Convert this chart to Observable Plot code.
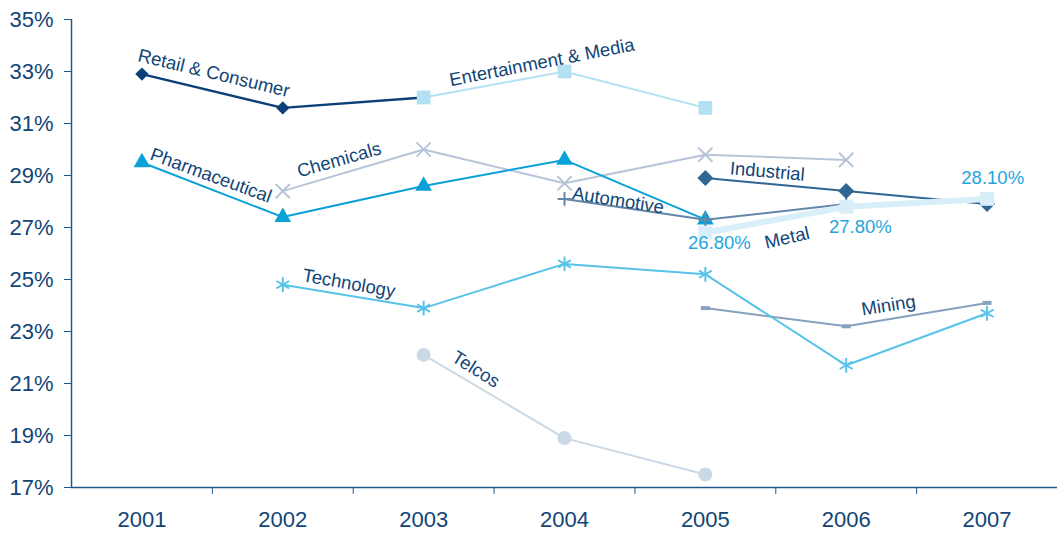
<!DOCTYPE html>
<html>
<head>
<meta charset="utf-8">
<script src="https://cdn.jsdelivr.net/npm/d3@7"></script>
<script src="https://cdn.jsdelivr.net/npm/@observablehq/plot@0.6"></script>
<style>
  html, body { margin: 0; padding: 0; background: #fff; }
  #chart svg { display: block; font-family: "Liberation Sans", Arial, sans-serif; }
</style>
</head>
<body>
<div id="chart"></div>
<script>
// ---- data ----
const years = [2001, 2002, 2003, 2004, 2005, 2006, 2007];
const yTicks = [17, 19, 21, 23, 25, 27, 29, 31, 33, 35];

const retailConsumer   = [32.9, 31.6, 32.0, null, null, null, null];
const entertainment    = [null, null, 32.0, 33.0, 31.6, null, null];
const chemicals        = [null, 28.4, 30.0, 28.7, 29.8, 29.6, null];
const pharmaceutical   = [29.5, 27.4, 28.6, 29.6, 27.3, null, null];
const industrial       = [null, null, null, null, 28.9, 28.4, 27.9];
const automotive       = [null, null, null, 28.1, 27.3, 27.9, null];
const metal            = [null, null, null, null, 26.8, 27.8, 28.1];
const technology       = [null, 24.8, 23.9, 25.6, 25.2, 21.7, 23.7];
const mining           = [null, null, null, null, 23.9, 23.2, 24.1];
const telcos           = [null, null, 22.1, 18.9, 17.5, null, null];
const metalValueLabels = ["26.80%", "27.80%", "28.10%"];

// ---- build rows ----
const rows = (vals) => years.map((x, i) => ({x, y: vals[i]})).filter(d => d.y != null);

const TXT = "#114577";
const AX = "#235789";
const FONT = "Liberation Sans, Arial, sans-serif";

const dashSymbol = { draw(ctx, size) { ctx.rect(-4.5, -2, 9, 4); } };

function series(vals, color, symbol, r, filled, width = 2) {
  const d = rows(vals);
  return [
    Plot.line(d, {x: "x", y: "y", stroke: color, strokeWidth: width}),
    Plot.dot(d, filled
      ? {x: "x", y: "y", symbol, r, fill: color, stroke: "none"}
      : {x: "x", y: "y", symbol, r, stroke: color, strokeWidth: 2, fill: "none"})
  ];
}

function label(text, x, y, rotate, color = TXT, size = 18.5) {
  return Plot.text([text], {x: () => x, y: () => y, text: d => d, rotate, fill: color,
    fontSize: size, fontFamily: FONT, textAnchor: "middle", lineAnchor: "middle"});
}

const metalRows = rows(metal);

const chart = Plot.plot({
  width: 1058,
  height: 533,
  marginLeft: 71,
  marginRight: 1,
  marginTop: 19,
  marginBottom: 46,
  style: {fontFamily: FONT, overflow: "visible"},
  x: {domain: [2000.5, 2007.5]},
  y: {domain: [17, 35]},
  marks: [
    Plot.axisY({ticks: yTicks, tickFormat: d => d + "%", tickSize: 7, tickPadding: 11,
      fontSize: 22, color: AX, fill: TXT, label: null}),
    Plot.axisX({ticks: [2001.5, 2002.5, 2003.5, 2004.5, 2005.5, 2006.5], tickSize: 7,
      tickFormat: () => "", color: AX, label: null}),
    Plot.axisX({ticks: years, tickSize: 0, tickPadding: 24, tickFormat: d => String(d),
      fontSize: 22, fill: TXT, label: null}),
    Plot.ruleX([2000.5], {stroke: AX, strokeWidth: 1.5}),
    Plot.ruleY([17], {stroke: AX, strokeWidth: 1.5}),

    ...series(telcos, "#cbd8e6", "circle", 7, true),
    ...series(mining, "#87a1bf", dashSymbol, 3, true),
    ...series(technology, "#58c3e8", "asterisk", 7, false),
    ...series(chemicals, "#b7c4d8", "times", 6.5, false),
    ...series(retailConsumer, "#0b3f78", "diamond2", 6, true, 2.3),
    ...series(entertainment, "#b3e1f3", "square", 7.8, true),
    ...series(pharmaceutical, "#0aa1d8", "triangle", 6.2, true),
    ...series(automotive, "#6486aa", "plus", 4.5, false),
    ...series(industrial, "#2f6696", "diamond2", 7.2, true),
    Plot.line(metalRows, {x: "x", y: "y", stroke: "#d8eff9", strokeWidth: 6}),
    Plot.dot(metalRows, {x: "x", y: "y", symbol: "square", r: 7.8, fill: "#d8eff9"}),

    label("Retail & Consumer", 2001.51, 32.93, 13.5),
    label("Entertainment & Media", 2003.84, 33.35, -11),
    label("Chemicals", 2002.40, 29.6, -16),
    label("Pharmaceutical", 2001.49, 29.0, 20),
    label("Industrial", 2005.44, 29.15, 5),
    label("Automotive", 2004.38, 28.04, 9),
    label("Metal", 2005.58, 26.6, -13),
    label("Technology", 2002.47, 24.85, 10),
    label("Mining", 2006.30, 24.0, -9),
    label("Telcos", 2003.37, 21.54, 32),
    label(metalValueLabels[0], 2005.10, 26.42, 0, "#1ea6dc"),
    label(metalValueLabels[1], 2006.10, 27.0, 0, "#1ea6dc"),
    label(metalValueLabels[2], 2007.04, 28.92, 0, "#1ea6dc")
  ]
});

document.getElementById("chart").appendChild(chart);
</script>
</body>
</html>
